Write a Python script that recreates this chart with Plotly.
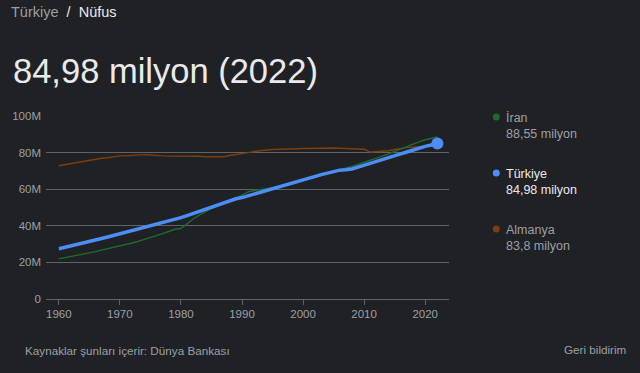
import plotly.graph_objects as go

years = list(range(1960, 2023))

turkiye = [27.47, 28.21, 28.97, 29.76, 30.56, 31.38, 32.21, 33.05, 33.91, 34.78,
           35.54, 36.33, 37.14, 37.96, 38.79, 39.64, 40.52, 41.44, 42.39, 43.36,
           44.44, 45.54, 46.69, 47.86, 49.05, 50.31, 51.47, 52.56, 53.66, 54.78,
           55.43, 56.43, 57.43, 58.44, 59.42, 60.40, 61.38, 62.37, 63.36, 64.34,
           65.29, 66.21, 67.09, 67.94, 68.76, 69.58, 70.42, 70.59, 71.05, 72.04,
           73.14, 74.22, 75.18, 76.15, 77.18, 78.22, 79.28, 80.31, 81.41, 82.58,
           83.38, 84.15, 84.98]

iran = [21.9, 22.5, 23.2, 23.8, 24.5, 25.2, 25.9, 26.7, 27.4, 28.2,
        29.0, 29.8, 30.6, 31.5, 32.5, 33.5, 34.6, 35.7, 36.9, 38.1,
        38.5, 41.2, 43.7, 45.8, 47.8, 49.5, 50.7, 52.0, 53.5, 55.0,
        56.8, 58.5, 59.3, 59.7, 60.1, 60.6, 61.2, 62.1, 63.0, 64.0,
        65.1, 66.0, 66.9, 67.8, 68.7, 69.6, 70.5, 71.4, 72.4, 73.5,
        74.6, 75.7, 76.8, 78.0, 79.3, 80.7, 82.1, 83.5, 84.8, 85.9,
        87.0, 87.9, 88.55]

almanya = [72.8, 73.4, 74.0, 74.6, 75.3, 76.0, 76.6, 76.9, 77.2, 77.9,
           78.2, 78.3, 78.6, 78.9, 78.9, 78.7, 78.3, 78.2, 78.1, 78.1,
           78.3, 78.4, 78.3, 78.0, 77.7, 77.7, 77.7, 77.7, 78.4, 78.8,
           79.4, 80.0, 80.6, 81.2, 81.4, 81.7, 81.9, 82.0, 82.0, 82.1,
           82.2, 82.3, 82.5, 82.5, 82.5, 82.5, 82.4, 82.3, 82.1, 81.9,
           81.8, 80.3, 80.4, 80.6, 81.0, 81.7, 82.3, 82.7, 82.9, 83.1,
           83.2, 83.2, 83.8]

y_ticks = [0, 20e6, 40e6, 60e6, 80e6, 100e6]
y_tick_labels = ["0", "20M", "40M", "60M", "80M", "100M"]
x_ticks = [1960, 1970, 1980, 1990, 2000, 2010, 2020]

legend_names = ["İran", "Türkiye", "Almanya"]
legend_values = ["88,55 milyon", "84,98 milyon", "83,8 milyon"]

BG = "#202124"
GRID = "#5f6368"
GRAY = "#9aa0a6"
WHITE = "#e8eaed"
C_IRAN = "#1e6b32"
C_TUR = "#4c8df6"
C_ALM = "#7b3f12"
FONT = "Liberation Sans, Arial, sans-serif"

fig = go.Figure()
fig.add_trace(go.Scatter(x=years, y=[v * 1e6 for v in almanya], mode="lines",
                         line=dict(color=C_ALM, width=1.4), hoverinfo="skip"))
fig.add_trace(go.Scatter(x=years, y=[v * 1e6 for v in iran], mode="lines",
                         line=dict(color=C_IRAN, width=1.4), hoverinfo="skip"))
fig.add_trace(go.Scatter(x=years, y=[v * 1e6 for v in turkiye], mode="lines",
                         line=dict(color=C_TUR, width=3.5), hoverinfo="skip"))
fig.add_trace(go.Scatter(x=[years[-1]], y=[turkiye[-1] * 1e6], mode="markers",
                         marker=dict(color=C_TUR, size=12), hoverinfo="skip"))

L, R, T, B = 40, 449, 116, 299
W, H = 640, 373


def px(x):
    return (x - L) / (R - L)


def py(y):
    return (B - y) / (B - T)


fig.update_layout(
    width=W, height=H,
    margin=dict(l=L, r=W - R, t=T, b=H - B, pad=0),
    paper_bgcolor=BG, plot_bgcolor=BG,
    showlegend=False,
    font=dict(family=FONT, color=GRAY, size=11),
    xaxis=dict(range=[1957.9, 2023.9], tickvals=x_ticks, showgrid=False,
               zeroline=False, showline=True, linecolor=GRID, linewidth=1,
               ticks="outside", ticklen=5, tickcolor=GRID, tickwidth=1,
               ticklabelstandoff=-1,
               tickfont=dict(size=11.5, color=GRAY, family=FONT), fixedrange=True),
    yaxis=dict(range=[0, 100e6], tickvals=y_ticks, ticktext=y_tick_labels,
               showgrid=True, gridcolor=GRID, gridwidth=1, zeroline=False,
               showline=False, ticks="", ticklabelstandoff=4,
               tickfont=dict(size=11.5, color=GRAY, family=FONT), fixedrange=True),
)

ann = []
ann.append(dict(text="<span style='color:%s'>Türkiye</span>"
                     "<span style='color:%s'>  /  </span>"
                     "<span style='color:%s'>Nüfus</span>" % (GRAY, WHITE, WHITE),
                x=px(2), y=py(12), xref="paper", yref="paper",
                xanchor="left", yanchor="middle", showarrow=False,
                font=dict(size=14.5, family=FONT)))
ann.append(dict(text="84,98 milyon (2022)", x=px(4), y=py(71),
                xref="paper", yref="paper", xanchor="left", yanchor="middle",
                showarrow=False, font=dict(size=34.5, color=WHITE, family=FONT)))

legend_colors = [C_IRAN, C_TUR, C_ALM]
legend_y = [117.5, 173.5, 229.5]
for name, val, col, ly in zip(legend_names, legend_values, legend_colors, legend_y):
    main = WHITE if name == "Türkiye" else GRAY
    ann.append(dict(text=name, x=px(505), y=py(ly), xref="paper", yref="paper",
                    xanchor="left", yanchor="middle", showarrow=False,
                    font=dict(size=12.5, color=main, family=FONT)))
    ann.append(dict(text=val, x=px(505), y=py(ly + 16), xref="paper", yref="paper",
                    xanchor="left", yanchor="middle", showarrow=False,
                    font=dict(size=12.5, color=main, family=FONT)))
    fig.add_shape(type="circle", xref="paper", yref="paper",
                  xsizemode="pixel", ysizemode="pixel",
                  xanchor=px(497), yanchor=py(ly - 0.5),
                  x0=-3.5, x1=3.5, y0=-3.5, y1=3.5,
                  fillcolor=col, line=dict(width=0))

ann.append(dict(text="Kaynaklar şunları içerir: Dünya Bankası", x=px(17), y=py(350),
                xref="paper", yref="paper", xanchor="left", yanchor="middle",
                showarrow=False, font=dict(size=11.7, color=GRAY, family=FONT)))
ann.append(dict(text="Geri bildirim", x=px(631), y=py(349),
                xref="paper", yref="paper", xanchor="right", yanchor="middle",
                showarrow=False, font=dict(size=11.7, color=GRAY, family=FONT)))
fig.update_layout(annotations=ann)

fig.write_html("out.html")
